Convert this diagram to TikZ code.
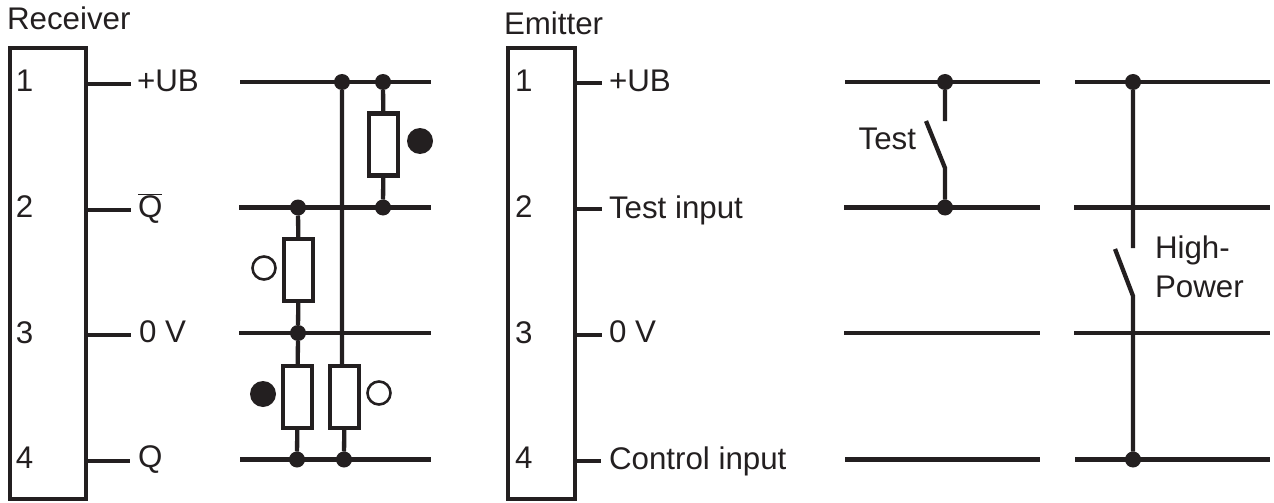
\documentclass[tikz,border=0pt]{standalone}
\usepackage{fontspec}
\setmainfont{Liberation Sans}
\usetikzlibrary{positioning}
\definecolor{ink}{HTML}{231F20}

\begin{document}
\begin{tikzpicture}[
x=1pt,y=-1pt,
color=ink,
line width=4.3pt,
every node/.style={font=\fontsize{31.3}{38}\selectfont,text=ink,inner sep=0pt,outer sep=0pt},
lbl/.style={anchor=base west},
box/.style={draw,rectangle,anchor=north west,minimum width=#1,minimum height=451pt},
dot/.style={circle,fill=ink,draw=none,minimum size=16pt},
res/.style={draw,rectangle,fill=white,minimum width=29pt,minimum height=62pt},
onlamp/.style={circle,fill=ink,draw=none,minimum size=26pt},
offlamp/.style={circle,fill=white,draw,line width=2.6pt,minimum size=23pt}]
\useasboundingbox (0,0) rectangle (1274,503);
%receiver
  \node[lbl] (rtitle) at (7,30) {Receiver};
  \node[box=76pt] (rbox) at (10,48) {};
  \node[lbl] (r1) at (16,92) {1};
  \node[lbl] (r2) at (16,217) {2};
  \node[lbl] (r3) at (16,343) {3};
  \node[lbl] (r4) at (16,468) {4};
  \coordinate (rs1) at (86,84);
  \coordinate (rs2) at (86,210);
  \coordinate (rs3) at (86,335);
  \coordinate (rs4) at (86,461);
  \coordinate (re1) at (131,84);
  \coordinate (re2) at (131,210);
  \coordinate (re3) at (131,335);
  \coordinate (re4) at (130,461);
  \draw (rs1) -- (re1) (rs2) -- (re2) (rs3) -- (re3) (rs4) -- (re4);
  \node[lbl] (rl1) at (137,91) {+UB};
  \node[lbl] (rl2) at (138,217) {$\overline{\mbox{Q}}$};
  \node[lbl] (rl3) at (139,342) {0 V};
  \node[lbl] (rl4) at (138,467) {Q};
%receiver rails
  \coordinate (a1) at (240,82);
  \coordinate (a2) at (431,82);
  \coordinate (b1) at (239,207.5);
  \coordinate (b2) at (431,207.5);
  \coordinate (c1) at (239,333);
  \coordinate (c2) at (431,333);
  \coordinate (d1) at (240,459.5);
  \coordinate (d2) at (431,459.5);
  \draw (a1) -- (a2) (b1) -- (b2) (c1) -- (c2) (d1) -- (d2);
%receiver junctions
  \node[dot] (j1) at (342,82) {};
  \node[dot] (j2) at (383,82) {};
  \node[dot] (j3) at (383,207.5) {};
  \node[dot] (j4) at (298,207.5) {};
  \node[dot] (j5) at (298,333) {};
  \node[dot] (j6) at (297,459.5) {};
  \node[dot] (j7) at (344,459.5) {};
%resistors
  \node[res] (r5) at (383.5,144.5) {};
  \node[res] (r6) at (298.5,270) {};
  \node[res] (r7) at (297.5,397) {};
  \node[res] (r8) at (344.5,397) {};
  \draw (j2) -- (r5) (r5) -- (j3) (j4) -- (r6) (r6) -- (j5) (j5) -- (r7) (r7) -- (j6)
        (j1) -- (j1 |- r8.north) (r8) -- (j7);
  \node[onlamp] (l1) at (420,141) {};
  \node[offlamp] (l2) at (264,268) {};
  \node[onlamp] (l3) at (263,394) {};
  \node[offlamp] (l4) at (379,393) {};
%emitter
  \node[lbl] (etitle) at (504,35) {Emitter};
  \node[box=67pt] (ebox) at (508,48) {};
  \node[lbl] (e1) at (515,92) {1};
  \node[lbl] (e2) at (515,217) {2};
  \node[lbl] (e3) at (515,343) {3};
  \node[lbl] (e4) at (515,468) {4};
  \coordinate (es1) at (575,83);
  \coordinate (es2) at (575,209);
  \coordinate (es3) at (575,335);
  \coordinate (es4) at (575,461);
  \coordinate (ee1) at (602,83);
  \coordinate (ee2) at (602,209);
  \coordinate (ee3) at (602,335);
  \coordinate (ee4) at (601,461);
  \draw (es1) -- (ee1) (es2) -- (ee2) (es3) -- (ee3) (es4) -- (ee4);
  \node[lbl] (el1) at (609,91) {+UB};
  \node[lbl] (el2) at (609,218) {Test input};
  \node[lbl] (el3) at (609,342) {0 V};
  \node[lbl] (el4) at (609,469) {Control input};
%emitter rails
  \coordinate (f1) at (845,82);
  \coordinate (f2) at (1040,82);
  \coordinate (g1) at (844,207.5);
  \coordinate (g2) at (1040,207.5);
  \coordinate (h1) at (844,333);
  \coordinate (h2) at (1040,333);
  \coordinate (i1) at (845,459.5);
  \coordinate (i2) at (1040,459.5);
  \coordinate (k1) at (1075,82);
  \coordinate (k2) at (1270,82);
  \coordinate (m1) at (1074,207.5);
  \coordinate (m2) at (1270,207.5);
  \coordinate (n1) at (1074,333);
  \coordinate (n2) at (1270,333);
  \coordinate (o1) at (1075,459.5);
  \coordinate (o2) at (1270,459.5);
  \draw (f1) -- (f2) (g1) -- (g2) (h1) -- (h2) (i1) -- (i2)
        (k1) -- (k2) (m1) -- (m2) (n1) -- (n2) (o1) -- (o2);
%switches
  \node[dot] (t1) at (945,82) {};
  \node[dot] (t2) at (945,207.5) {};
  \node[dot] (p1) at (1133,82) {};
  \node[dot] (p2) at (1133,459.5) {};
  \coordinate (t3) at (945,121);
  \coordinate (t4) at (926,121);
  \coordinate (t5) at (945,168);
  \coordinate (p3) at (1133,248);
  \coordinate (p4) at (1115,249);
  \coordinate (p5) at (1133,296);
  \draw (t1) -- (t3) (t4) -- (t5) -- (t2);
  \draw (p1) -- (p3) (p4) -- (p5) -- (p2);
  \node[anchor=base east] (tlab) at (916,149) {Test};
  \node[lbl] (plab1) at (1155,258) {High-};
  \node[lbl] (plab2) at (1155,297) {Power};
\end{tikzpicture}
\end{document}
